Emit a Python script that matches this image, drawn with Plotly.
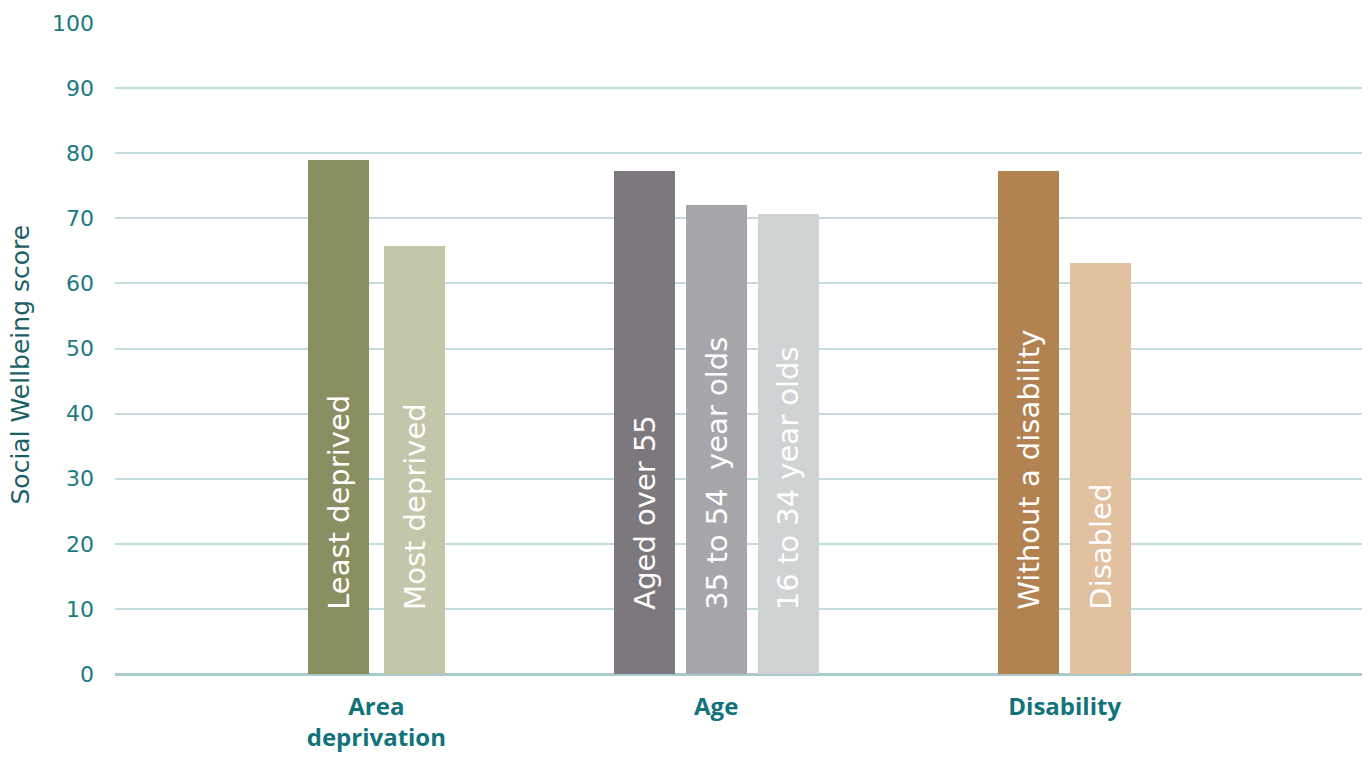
import plotly.graph_objects as go

groups = ["Area<br>deprivation", "Age", "Disability"]
group_centers = [3.63, 8.35, 13.19]
group_pitch = [1.056, 1.0, 1.0]
labels = [
    ["Least deprived", "Most deprived"],
    ["Aged over 55", "35 to 54  year olds", "16 to 34 year olds"],
    ["Without a disability", "Disabled"],
]
values = [
    [78.9, 65.8],
    [77.2, 72.1, 70.7],
    [77.2, 63.1],
]
colors = [
    ["#8a8f62", "#c3c6a8"],
    ["#7d787d", "#a7a6aa", "#d0d3d4"],
    ["#b38251", "#e1c19f"],
]
y_ticks = list(range(0, 101, 10))

TEAL = "#1b7a80"
FONT = "DejaVu Sans"

W, H = 1370, 758
ML, MR, MT, MB = 115, 8, 23, 84

fig = go.Figure()
annotations = []
for g, (c, p) in enumerate(zip(group_centers, group_pitch)):
    n = len(values[g])
    xs = [c + (i - (n - 1) / 2) * p for i in range(n)]
    fig.add_trace(go.Bar(
        x=xs, y=values[g], width=0.847,
        marker=dict(color=colors[g], line=dict(width=0)),
        showlegend=False, hoverinfo="skip",
    ))
    for x, lab in zip(xs, labels[g]):
        annotations.append(dict(
            x=x, y=0, xref="x", yref="y", text=lab, textangle=-90,
            showarrow=False, yanchor="bottom", xanchor="center", yshift=62,
            font=dict(family=FONT, size=29, color="white"),
        ))

annotations.append(dict(
    x=(20 - ML) / (W - ML - MR), xref="paper", xanchor="center",
    y=0.5, yref="paper", yanchor="middle", yshift=-16,
    text="Social Wellbeing score", textangle=-90, showarrow=False,
    font=dict(family=FONT, size=25, color="#1b5f66"),
))

fig.update_layout(
    width=W, height=H,
    margin=dict(l=ML, r=MR, t=MT, b=MB),
    paper_bgcolor="white", plot_bgcolor="white",
    annotations=annotations,
    bargap=0,
    font=dict(family=FONT),
)
fig.update_xaxes(
    range=[0, 1247 / 72], automargin=False,
    tickvals=group_centers, ticktext=["<b>" + g + "</b>" for g in groups],
    tickfont=dict(family="Open Sans", size=24, color="#10737a"),
    showgrid=False, zeroline=False, showline=False, ticks="",
    ticklabelstandoff=16,
)
fig.update_yaxes(
    range=[0, 100], tickvals=y_ticks, automargin=False,
    tickfont=dict(family=FONT, size=22, color=TEAL),
    gridcolor="#c4dbdd", gridwidth=1.5,
    zeroline=True, zerolinecolor="#a9c9cd", zerolinewidth=2.5,
    showline=False, ticks="", ticklabelstandoff=20,
)
fig.write_html("out.html", config={"displayModeBar": False},
               post_script="document.body.style.margin='0';")
